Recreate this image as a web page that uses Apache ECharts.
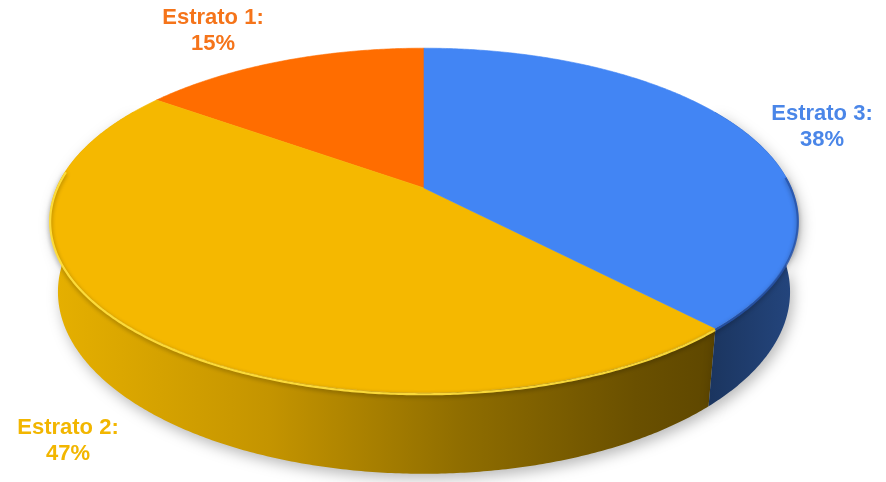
<!DOCTYPE html>
<html>
<head>
<meta charset="utf-8">
<script src="https://cdn.jsdelivr.net/npm/echarts@6/dist/echarts.min.js"></script>
<style>
  html, body { margin: 0; padding: 0; background: #ffffff; }
  #chart { width: 886px; height: 482px; }
</style>
</head>
<body>
<div id="chart"></div>
<script>
// Slice data (percent of total)
const categories = ['Estrato 1', 'Estrato 2', 'Estrato 3'];
const shares = [15, 47, 38];

// Colours
const topColors = ['#ff6d00', '#f5b800', '#4285f4'];
const labelColors = ['#f5741a', '#f2b600', '#4a86e8'];
const rimColors = ['rgba(255,150,60,0.9)', 'rgba(255,222,60,0.95)', 'rgba(40,85,170,0.85)'];
const sideColors = [
  [[0, '#e06000'], [1, '#a04400']],
  [[0, '#e6b000'], [0.33, '#c49400'], [0.62, '#8f6d00'], [0.88, '#6a5000'], [1, '#5e4700']],
  [[0, '#1b355f'], [1, '#24467f']]
];

// Label anchor points (centre of each two-line label)
const labelAnchors = [[213, 31], [68, 441], [822, 127]];

// 3D view of a unit-radius disc
const VIEW = {
  cx: 424, cy: 188,
  elev: 26.9 * Math.PI / 180,
  dist: 4.733,
  thick: 0.219,
  scale: 1738.4
};

function project(phi, h) {
  const X = Math.sin(phi), Z = -Math.cos(phi);
  const s = Math.sin(VIEW.elev), c = Math.cos(VIEW.elev);
  const up = h * c - Z * s;
  const depth = VIEW.dist - h * s - Z * c;
  return [VIEW.cx + VIEW.scale * X / depth, VIEW.cy - VIEW.scale * up / depth];
}

function arc(a, b, h) {
  const pts = [];
  const n = Math.max(2, Math.ceil(Math.abs(b - a) / (Math.PI / 360)));
  for (let k = 0; k <= n; k++) pts.push(project(a + (b - a) * k / n, h));
  return pts;
}

const total = shares.reduce((s, v) => s + v, 0);
const TWO_PI = Math.PI * 2;
const DEG = Math.PI / 180;
// slices laid out counter-clockwise starting from 12 o'clock
const spans = [];
let cum = 0;
shares.forEach(v => {
  spans.push([TWO_PI - TWO_PI * (cum + v) / total, TWO_PI - TWO_PI * cum / total]);
  cum += v;
});

const FRONT_LO = 60 * DEG, FRONT_HI = 300 * DEG;
const RIM_LO = 86 * DEG, RIM_HI = 276 * DEG;

function renderItem(params, api) {
  const i = params.dataIndex;
  const value = api.value(0);
  const [a, b] = spans[i];
  const children = [];

  // top face
  const topPts = [[VIEW.cx, VIEW.cy]].concat(arc(a, b, 0));
  children.push({
    type: 'polygon',
    z2: 20,
    shape: { points: topPts },
    style: { fill: topColors[i], stroke: topColors[i], lineWidth: 0.6 }
  });

  // visible outer wall
  const lo = Math.max(a, FRONT_LO), hi = Math.min(b, FRONT_HI);
  if (hi > lo) {
    const wall = arc(lo, hi, 0).concat(arc(hi, lo, -VIEW.thick));
    const xs = wall.map(p => p[0]);
    const x0 = Math.min.apply(null, xs), x1 = Math.max.apply(null, xs);
    children.push({
      type: 'polygon',
      z2: 10,
      shape: { points: wall },
      style: {
        fill: {
          type: 'linear', x: x0, y: 0, x2: x1, y2: 0, global: true,
          colorStops: sideColors[i].map(s => ({ offset: s[0], color: s[1] }))
        },
        shadowBlur: 14,
        shadowColor: 'rgba(0,0,0,0.28)',
        shadowOffsetX: 3,
        shadowOffsetY: 5
      }
    });
  }

  // rounded rim along the front top edge
  const lo2 = Math.max(a, RIM_LO), hi2 = Math.min(b, RIM_HI);
  if (hi2 > lo2) {
    children.push({
      type: 'polyline',
      z2: 25,
      shape: { points: arc(lo2, hi2, -0.004) },
      style: {
        fill: null,
        stroke: rimColors[i],
        lineWidth: 2.2,
        shadowBlur: 4,
        shadowColor: 'rgba(0,0,0,0.4)',
        shadowOffsetY: 1.5
      }
    });
  }

  // label
  children.push({
    type: 'text',
    z2: 40,
    style: {
      text: categories[i] + ':\n' + value + '%',
      x: labelAnchors[i][0],
      y: labelAnchors[i][1],
      fill: labelColors[i],
      font: 'bold 22px "Liberation Sans", Arial, sans-serif',
      align: 'center',
      verticalAlign: 'middle',
      lineHeight: 26
    }
  });

  return { type: 'group', children };
}

const chart = echarts.init(document.getElementById('chart'), null, { renderer: 'canvas' });
chart.setOption({
  backgroundColor: '#ffffff',
  animation: false,
  series: [{
    type: 'custom',
    coordinateSystem: 'none',
    renderItem,
    data: categories.map((name, i) => ({ name, value: [shares[i]] }))
  }]
});
</script>
</body>
</html>
